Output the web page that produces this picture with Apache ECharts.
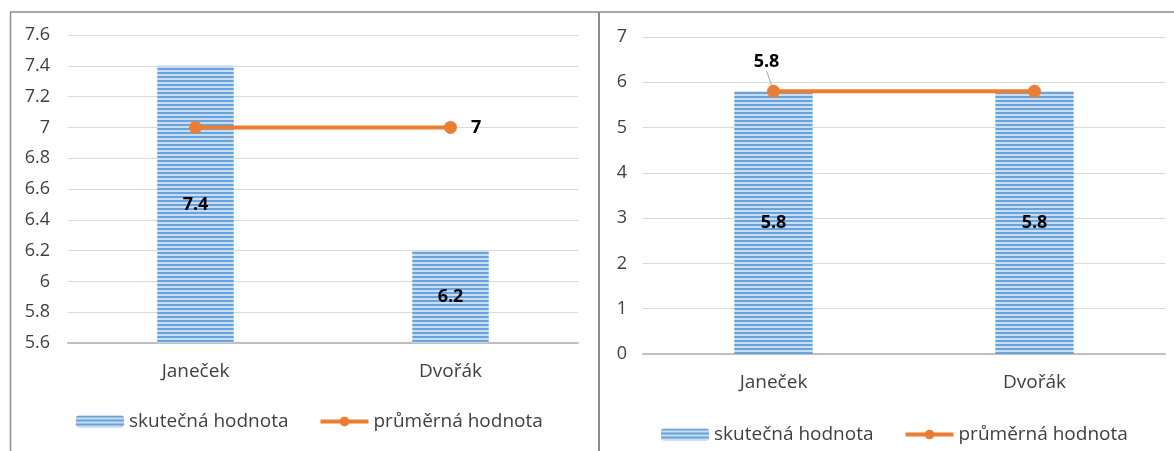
<!DOCTYPE html>
<html>
<head>
<meta charset="utf-8">
<script src="https://cdn.jsdelivr.net/npm/echarts@6/dist/echarts.min.js"></script>
<style>
  html, body { margin: 0; padding: 0; background: #fff; }
  #chart { width: 1174px; height: 451px; }
</style>
</head>
<body>
<div id="chart"></div>
<script>
// data
const categories = ['Janeček', 'Dvořák'];
const leftActual = [7.4, 6.2];
const leftAverage = [7, 7];
const rightActual = [5.8, 5.8];
const rightAverage = [5.8, 5.8];
const seriesNames = ['skutečná hodnota', 'průměrná hodnota'];

const FONT = '"Open Sans", sans-serif';
const TEXT = '#404040';
const ORANGE = '#ED7D31';

// horizontal stripe fill like the Excel pattern
const stripes = () => {
  const c = document.createElement('canvas');
  c.width = 4; c.height = 4;
  const g = c.getContext('2d');
  g.fillStyle = '#c6ddf3';
  g.fillRect(0, 0, 4, 4);
  g.fillStyle = '#6aa3dc';
  g.fillRect(0, 0, 4, 2);
  return c;
};
const barFill = { image: stripes(), repeat: 'repeat' };

const chart = echarts.init(document.getElementById('chart'));

const xAxisBase = (gridIndex) => ({
  type: 'category',
  gridIndex,
  data: categories,
  axisTick: { show: false },
  axisLine: { lineStyle: { color: '#bfbfbf', width: 2 } },
  axisLabel: { color: TEXT, fontSize: 19, fontFamily: FONT, margin: 19 }
});

const yAxisBase = (gridIndex, min, max, interval, margin) => ({
  type: 'value',
  gridIndex, min, max, interval,
  axisLine: { show: false },
  axisTick: { show: false },
  splitLine: { lineStyle: { color: '#d9d9d9', width: 1 } },
  axisLabel: { color: TEXT, fontSize: 18, fontFamily: FONT, margin }
});

const barSeries = (idx, data) => ({
  name: seriesNames[0],
  type: 'bar',
  xAxisIndex: idx, yAxisIndex: idx,
  data,
  barWidth: '30%',
  itemStyle: { color: barFill },
  label: {
    show: true, position: 'inside',
    color: '#000', fontWeight: 'bold', fontSize: 18, fontFamily: FONT
  }
});

const lineLabel = { color: '#000', fontWeight: 'bold', fontSize: 18, fontFamily: FONT };

const legendBase = (left, top) => ({
  left, top,
  itemWidth: 48, itemHeight: 12, itemGap: 30,
  lineStyle: { width: 4 },
  textStyle: { color: TEXT, fontSize: 19, fontFamily: FONT },
  data: seriesNames
});

const option = {
  animation: false,
  graphic: [
    { type: 'line', shape: { x1: 10, y1: 12, x2: 1174, y2: 12 }, style: { stroke: '#8c8c8c', lineWidth: 1.5 } },
    { type: 'line', shape: { x1: 10.5, y1: 12, x2: 10.5, y2: 451 }, style: { stroke: '#8c8c8c', lineWidth: 1.5 } },
    { type: 'line', shape: { x1: 599, y1: 12, x2: 599, y2: 451 }, style: { stroke: '#8c8c8c', lineWidth: 2 } }
  ],
  grid: [
    { left: 68, right: 596, top: 35, bottom: 108 },
    { left: 643, right: 9, top: 37, bottom: 97 }
  ],
  xAxis: [xAxisBase(0), xAxisBase(1)],
  yAxis: [
    yAxisBase(0, 5.6, 7.6, 0.2, 18),
    yAxisBase(1, 0, 7, 1, 16)
  ],
  legend: [legendBase(71, 407), legendBase(656, 420)],
  series: [
    barSeries(0, leftActual),
    {
      name: seriesNames[1],
      type: 'line',
      xAxisIndex: 0, yAxisIndex: 0,
      data: leftAverage.map((v, i) => ({
        value: v,
        label: { show: i === 1, position: 'right', distance: 14, ...lineLabel }
      })),
      symbol: 'circle', symbolSize: 13,
      itemStyle: { color: ORANGE },
      lineStyle: { color: ORANGE, width: 4 }
    },
    barSeries(1, rightActual),
    {
      name: seriesNames[1],
      type: 'line',
      xAxisIndex: 1, yAxisIndex: 1,
      data: rightAverage.map((v, i) => ({
        value: v,
        label: { show: i === 0, position: 'top', distance: 6, ...lineLabel }
      })),
      symbol: 'circle', symbolSize: 13,
      itemStyle: { color: ORANGE },
      lineStyle: { color: ORANGE, width: 4 },
      labelLayout: { dx: -7, dy: -8 },
      labelLine: { show: true, lineStyle: { color: '#a6a6a6', width: 1 } }
    }
  ]
};

chart.setOption(option);
</script>
</body>
</html>
